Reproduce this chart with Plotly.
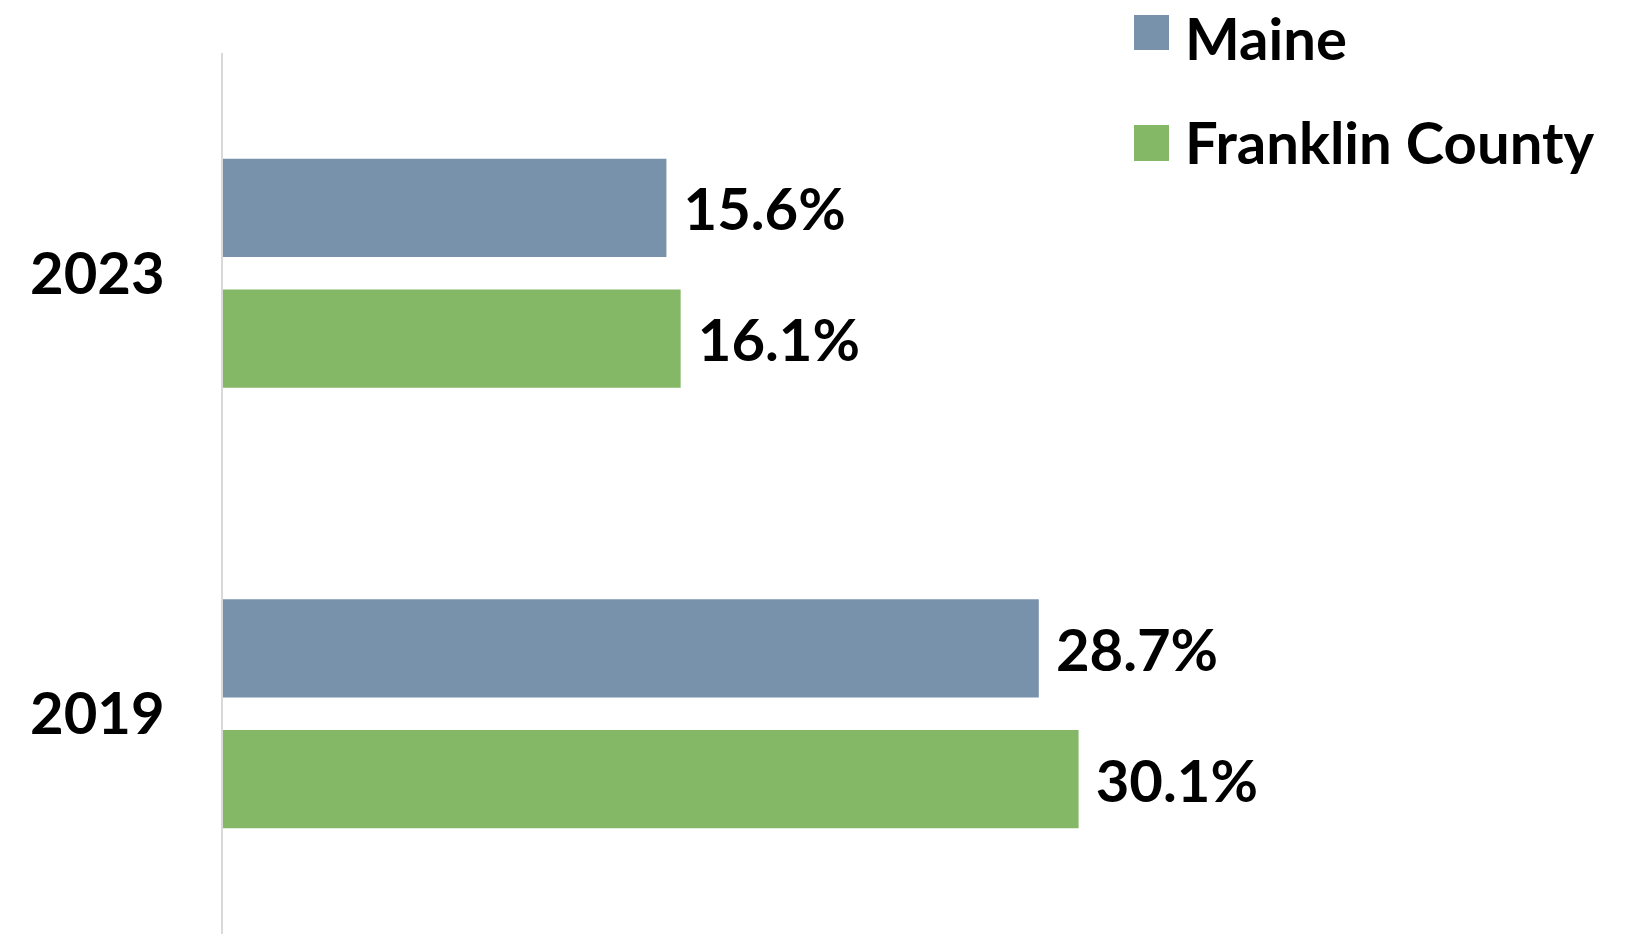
import plotly.graph_objects as go

years = ["2023", "2019"]
series_names = ["Maine", "Franklin County"]
maine = [15.6, 28.7]
franklin = [16.1, 30.1]
colors = ["#7892AB", "#84B766"]

W, H = 1649, 934
ML, MR, MT, MB = 223, 289, 53, 0
FONT = "Lato"
FS = 58

def px2x(px):
    return (px - ML) / (W - ML - MR)

def px2y(py):
    return (H - MB - py) / (H - MT - MB)

fig = go.Figure()
for name, vals, col in zip(series_names, [maine, franklin], colors):
    fig.add_trace(go.Bar(
        y=years, x=vals, name=name, orientation="h",
        marker=dict(color=col, line=dict(width=0)),
        text=["\u00a0" + f"{v:.1f}%" for v in vals],
        textposition="outside", constraintext="none", cliponaxis=False,
        textfont=dict(family=FONT, size=FS, color="#000000", weight=700),
        showlegend=False,
    ))

fig.update_layout(
    width=W, height=H,
    margin=dict(l=ML, r=MR, t=MT, b=MB, pad=0),
    paper_bgcolor="white", plot_bgcolor="white",
    barmode="group", bargap=0.406, bargroupgap=0.25,
    xaxis=dict(range=[0, 40], showgrid=False, zeroline=False, showline=False,
               showticklabels=False, ticks=""),
    yaxis=dict(autorange="reversed", categoryorder="array", categoryarray=years,
               showgrid=False, zeroline=False, showline=True, linecolor="#d9d9d9",
               linewidth=1.5, ticks="", ticklabelstandoff=45,
               tickfont=dict(family=FONT, size=FS, color="#000000", weight=700)),
    showlegend=False,
)

legend_rows = [(15, 50, 37), (125, 161, 141)]
for (top, bot, ty), name, col in zip(legend_rows, series_names, colors):
    fig.add_shape(type="rect", xref="paper", yref="paper",
                  x0=px2x(1134), x1=px2x(1169), y0=px2y(bot), y1=px2y(top),
                  fillcolor=col, line=dict(width=0))
    fig.add_annotation(xref="paper", yref="paper", x=px2x(1183), y=px2y(ty),
                       xanchor="left", yanchor="middle", showarrow=False, text=name,
                       font=dict(family=FONT, size=FS, color="#000000", weight=700))

fig.write_html("out.html",
               config={"displayModeBar": False},
               post_script="document.body.style.margin='0';document.body.style.overflow='hidden';")
